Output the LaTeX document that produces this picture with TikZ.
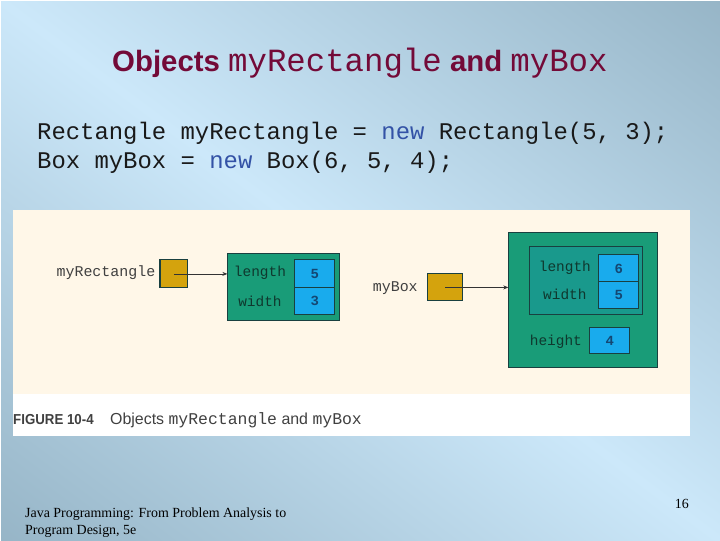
\documentclass[tikz,border=0pt]{standalone}
\usepackage{fontspec}
\setmainfont{Liberation Serif}
\newfontfamily\arial{Liberation Sans}
\newfontfamily\cour{Liberation Mono}
\usetikzlibrary{arrows.meta}
\definecolor{titlecol}{rgb}{0.45,0.04,0.22}
\definecolor{newcol}{rgb}{0.2,0.32,0.65}
\definecolor{cream}{rgb}{1.0,0.97,0.91}
\definecolor{goldc}{rgb}{0.83,0.64,0.05}
\definecolor{greenc}{rgb}{0.1,0.61,0.47}
\definecolor{greenin}{rgb}{0.1,0.6,0.55}
\definecolor{bluec}{rgb}{0.1,0.67,0.93}
\definecolor{edgec}{rgb}{0.1,0.25,0.25}
\definecolor{lblc}{rgb}{0.25,0.25,0.25}
\definecolor{intxt}{rgb}{0.06,0.22,0.18}
\definecolor{numtxt}{rgb}{0.08,0.28,0.45}
\pgfdeclarefunctionalshading{bgshade}{\pgfpoint{0bp}{0bp}}{\pgfpoint{720bp}{540bp}}{}{
540 div exch 720 div add 1 sub abs dup dup -0.21 mul 0.80 add exch -0.20 mul 0.91 add 3 2 roll -0.20 mul 0.98 add
}
\tikzset{
  box/.style={draw=edgec,line width=1.1bp,rectangle,inner sep=0pt},
  goldbox/.style={box,fill=goldc},
  cell/.style={box,fill=bluec,minimum width=40bp,text=numtxt,font=\cour\bfseries\fontsize{14}{15}\selectfont},
  lbl/.style={font=\cour\fontsize{15}{15}\selectfont,text=lblc,inner sep=0pt},
  inlbl/.style={font=\cour\fontsize{14.5}{15}\selectfont,text=intxt,inner sep=0pt},
  ptr/.style={draw=black!80,line width=0.8bp,-{Stealth[length=5bp,width=4bp]}}
}
\begin{document}
\begin{tikzpicture}[x=1bp,y=-1bp]
\node[inner sep=0pt,anchor=north west] (bg) at (0,0) {\pgfuseshading{bgshade}};
\useasboundingbox (0,0) rectangle (720,540);
% title
\node[anchor=base,text=titlecol,inner sep=0pt,font=\arial\bfseries\fontsize{29.5}{31}\selectfont] (title) at (360,72)
 {Objects {\cour\mdseries\fontsize{32.5}{34}\selectfont myRectangle} and {\cour\mdseries\fontsize{32.5}{34}\selectfont myBox}};
% code
\node[anchor=base west,inner sep=0pt,font=\cour\fontsize{24}{24}\selectfont,text=black!90] (code1) at (37,140)
 {Rectangle myRectangle = \textcolor{newcol}{new} Rectangle(5, 3);};
\node[anchor=base west,inner sep=0pt,font=\cour\fontsize{24}{24}\selectfont,text=black!90] (code2) at (37,169)
 {Box myBox = \textcolor{newcol}{new} Box(6, 5, 4);};
% panel
\node[fill=white,inner sep=0pt,minimum width=677bp,minimum height=226bp,anchor=north west] (panel) at (13,210) {};
\node[fill=cream,inner sep=0pt,minimum width=677bp,minimum height=184bp,anchor=north west] (creamarea) at (13,210) {};
% rectangle object
\node[lbl,anchor=east] (lr) at (155.5,273) {myRectangle};
\node[goldbox,minimum width=28bp,minimum height=28bp] (gr) at (174,274) {};
\node[box,fill=greenc,minimum width=112bp,minimum height=67bp] (r1) at (284,287.5) {};
\node[cell,minimum height=27.5bp] (rc1) at (315,273.75) {5};
\node[cell,minimum height=27.5bp] (rc2) at (315,301.25) {3};
\node[inlbl] (rl1) at (260,273) {length};
\node[inlbl] (rl2) at (260,301) {width};
\draw[ptr] (gr.center) -- (gr.center -| r1.west);
% box object
\node[lbl,anchor=east] (lb) at (418,288) {myBox};
\node[goldbox,minimum width=35bp,minimum height=27bp] (gb) at (445.5,287.5) {};
\node[box,fill=greenc,minimum width=149bp,minimum height=135bp] (b1) at (583.5,300.5) {};
\node[box,fill=greenin,minimum width=113bp,minimum height=68bp] (b2) at (586.5,281) {};
\node[cell,minimum height=27bp] (bc1) at (619,268.5) {6};
\node[cell,minimum height=27bp] (bc2) at (619,295.5) {5};
\node[cell,minimum height=26bp] (bc3) at (610,341) {4};
\node[inlbl] (bl1) at (565,268) {length};
\node[inlbl] (bl2) at (565,294) {width};
\node[inlbl] (bl3) at (556,342) {height};
\draw[ptr] (gb.center) -- (gb.center -| b1.west);
% caption
\node[anchor=base west,inner sep=0pt,text=lblc] (figno) at (13,425)
 {\scalebox{0.92}[1]{\arial\bfseries\fontsize{14.5}{15}\selectfont FIGURE 10-4}};
\node[anchor=base west,inner sep=0pt,text=lblc,font=\arial\fontsize{16}{16}\selectfont] (figcap) at (110,425)
 {Objects {\cour\fontsize{16.5}{16}\selectfont myRectangle} and {\cour\fontsize{16.5}{16}\selectfont myBox}};
% footer
\node[anchor=base west,inner sep=0pt,font=\fontsize{14}{14}\selectfont] (foot1) at (25,518) {Java Programming: From Problem Analysis to};
\node[anchor=base west,inner sep=0pt,font=\fontsize{14}{14}\selectfont] (foot2) at (25,535) {Program Design, 5e};
\node[anchor=base,inner sep=0pt,font=\fontsize{14}{14}\selectfont] (pageno) at (682,509) {16};
\end{tikzpicture}
\end{document}
